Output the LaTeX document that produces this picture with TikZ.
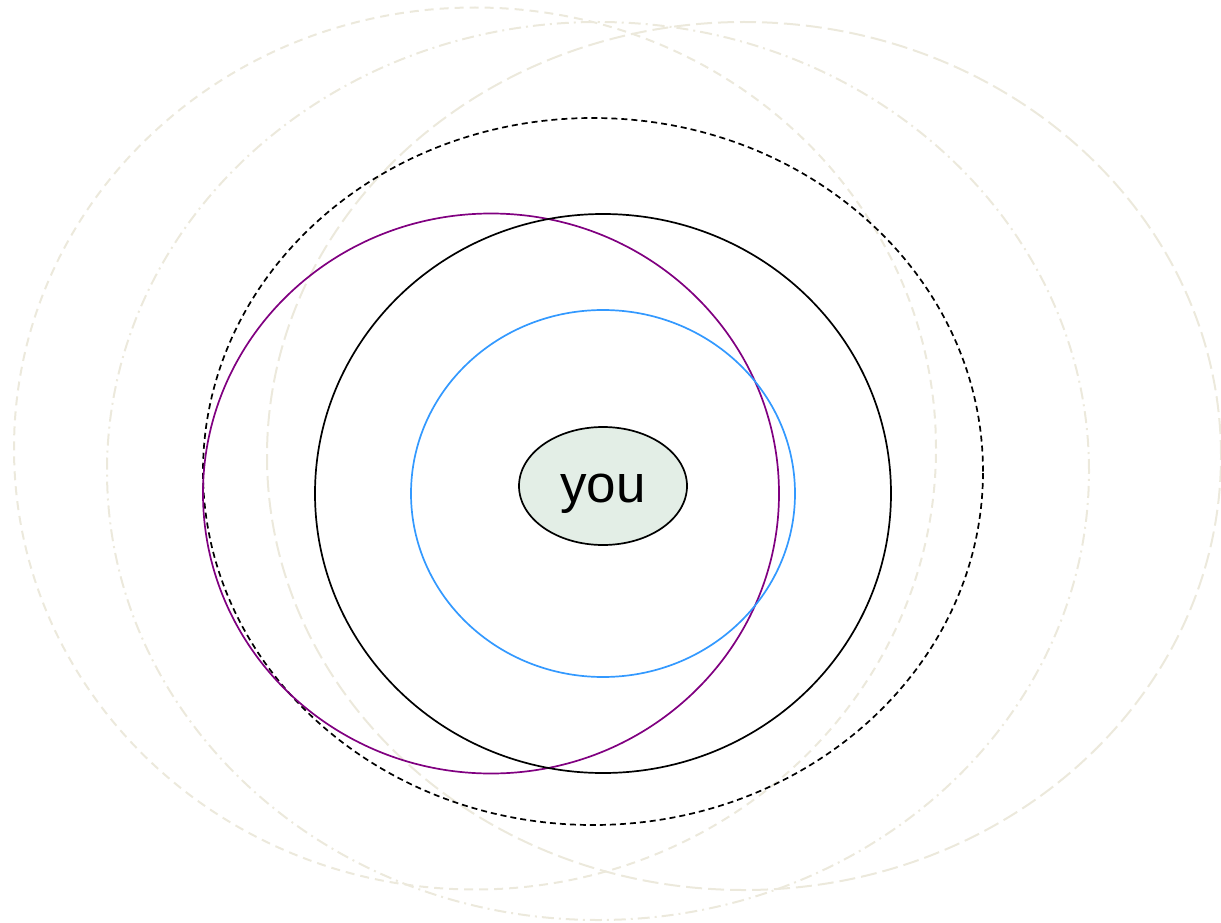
\documentclass[tikz,border=0pt]{standalone}
\usepackage{fontspec}
\setmainfont{Liberation Sans}
\usetikzlibrary{shapes.geometric}
\definecolor{pale}{RGB}{236,233,220}
\definecolor{purp}{RGB}{128,0,128}
\definecolor{sky}{RGB}{51,153,255}
\definecolor{youfill}{RGB}{227,238,230}
\tikzset{
  ring/.style={ellipse, draw, inner sep=0pt, line width=1.7pt},
  palering/.style={ring, draw=pale, line width=2pt},
}
\begin{document}
\begin{tikzpicture}[x=1pt,y=-1pt]
\useasboundingbox (0,0) rectangle (1221,923);
\node[palering, dash pattern=on 9pt off 6pt, minimum width=922pt, minimum height=882pt] (pl) at (475,448.5) {};
\node[palering, dash pattern=on 12pt off 5pt on 2pt off 5pt, minimum width=982pt, minimum height=898pt] (pm) at (598,471) {};
\node[palering, dash pattern=on 16pt off 6pt, minimum width=954pt, minimum height=868pt] (pr) at (744,456) {};
\node[ring, dash pattern=on 6pt off 4pt, minimum width=780pt, minimum height=707pt] (bd) at (593,471.5) {};
\node[ring, draw=purp, minimum width=576pt, minimum height=560pt] (pu) at (491,493.5) {};
\node[ring, minimum width=576pt, minimum height=559pt] (bs) at (603,493.5) {};
\node[ring, draw=sky, minimum width=384pt, minimum height=367pt] (bl) at (603,493.5) {};
\node[ring, fill=youfill, minimum width=168pt, minimum height=118pt] (you) at (603,486) {};
\node[font=\fontsize{53}{60}\selectfont, inner sep=0pt] (yt) at (603,494) {you};
\end{tikzpicture}
\end{document}
